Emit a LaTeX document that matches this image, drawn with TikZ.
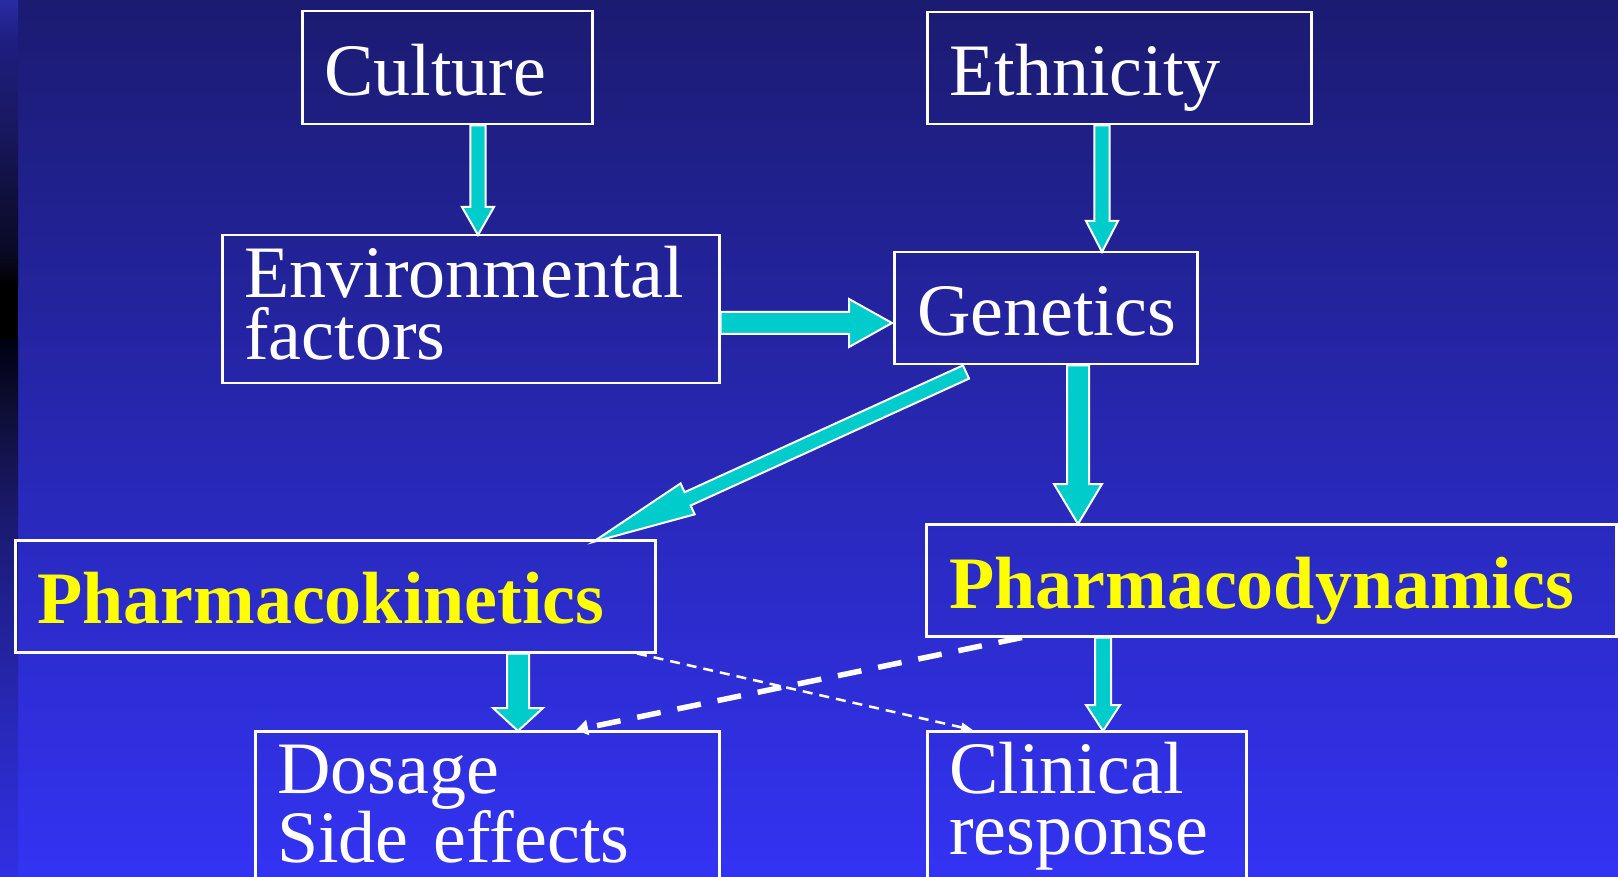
\documentclass[tikz,border=0pt]{standalone}
\usepackage{fontspec}
\setmainfont{Liberation Serif}
\usetikzlibrary{calc,arrows.meta}
\definecolor{arrowc}{RGB}{0,204,204}
\definecolor{hiyellow}{RGB}{255,255,0}
\definecolor{bgtop}{RGB}{27,27,113}
\definecolor{bgbot}{RGB}{51,51,243}
\definecolor{st0}{RGB}{42,42,165}
\definecolor{st1}{RGB}{30,30,128}
\definecolor{st2}{RGB}{24,24,96}
\definecolor{st3}{RGB}{16,16,64}
\definecolor{st4}{RGB}{10,10,38}
\definecolor{st5}{RGB}{0,0,0}
\definecolor{st6}{RGB}{0,0,20}
\definecolor{st7}{RGB}{12,12,48}
\definecolor{st8}{RGB}{20,20,80}
\definecolor{st9}{RGB}{26,26,112}
\definecolor{st10}{RGB}{32,32,144}
\definecolor{st11}{RGB}{40,40,184}
\definecolor{st12}{RGB}{48,48,228}
\newcommand{\blockarr}[5]{%
  \coordinate (baB) at ($(#2)!#5!(#1)$);
  \draw[blk] ($(#1)!#3!90:(#2)$) -- ($(baB)!#3!-90:(#1)$) -- ($(baB)!#4!-90:(#1)$) -- (#2)
    -- ($(baB)!#4!90:(#1)$) -- ($(baB)!#3!90:(#1)$) -- ($(#1)!#3!-90:(#2)$) -- cycle;}
\tikzset{
  blk/.style={fill=arrowc, draw=white, line width=2pt, line join=miter},
  box/.style={draw=white, line width=2.5pt, anchor=north west, inner ysep=0pt,
    align=left, text=white, font=\fontsize{74}{62}\selectfont},
  boldbox/.style={box, text=hiyellow, font=\fontsize{74}{62}\selectfont\bfseries},
  thickdash/.style={draw=white, line width=5.5pt, dash pattern=on 24pt off 17pt,
    -{Triangle[length=12pt,width=15pt]}},
  thindash/.style={draw=white, line width=2.5pt, dash pattern=on 10pt off 7pt,
    -{Triangle[length=12pt,width=9pt]}}
}
\begin{document}
\begin{tikzpicture}[x=1pt,y=-1pt]
\useasboundingbox (0,0) rectangle (1618,877);
\clip (0,0) rectangle (1618,877);
% background
\shade[top color=bgtop, bottom color=bgbot] (18,0) rectangle (1618,877);
\shade[top color=st0, bottom color=st1] (0,0) rectangle (18,40);
\shade[top color=st1, bottom color=st2] (0,40) rectangle (18,130);
\shade[top color=st2, bottom color=st3] (0,130) rectangle (18,190);
\shade[top color=st3, bottom color=st4] (0,190) rectangle (18,250);
\shade[top color=st4, bottom color=st5] (0,250) rectangle (18,286);
\fill[st5] (0,286) rectangle (18,340);
\shade[top color=st6, bottom color=st7] (0,340) rectangle (18,400);
\shade[top color=st7, bottom color=st8] (0,400) rectangle (18,460);
\shade[top color=st8, bottom color=st9] (0,460) rectangle (18,520);
\shade[top color=st9, bottom color=st10] (0,520) rectangle (18,600);
\shade[top color=st10, bottom color=st11] (0,600) rectangle (18,720);
\shade[top color=st11, bottom color=st12] (0,720) rectangle (18,877);

% boxes
\node[box, minimum width=290pt, inner xsep=22pt, text width=246pt, text height=84pt, text depth=29pt] (culture) at (301,10) {Culture};
\node[box, minimum width=384pt, inner xsep=22pt, text width=340pt, text height=83pt, text depth=29pt] (ethnicity) at (926,11) {Ethnicity};
\node[box, minimum width=497pt, inner xsep=22pt, text width=453pt, text height=62pt, text depth=86pt] (env) at (221,234) {Environmental\\factors};
\node[box, minimum width=303pt, inner xsep=23pt, text width=257pt, text height=83pt, text depth=29pt] (genetics) at (893,251) {Genetics};
\node[boldbox, minimum width=640pt, inner xsep=22pt, text width=596pt, text height=83pt, text depth=29pt] (pk) at (14,539) {Pharmacokinetics};
\node[boldbox, minimum width=690pt, inner xsep=23pt, text width=644pt, text height=84pt, text depth=28pt] (pd) at (925,523) {Pharmacodynamics};
\node[box, font=\fontsize{74}{69}\selectfont, minimum width=464pt, inner xsep=22pt, text width=420pt, text height=62pt, text depth=158pt] (dosage) at (254,730) {Dosage\\Side effects};
\node[box, font=\fontsize{74}{61}\selectfont, minimum width=319pt, inner xsep=22pt, text width=275pt, text height=62pt, text depth=158pt] (clinical) at (926,730) {Clinical\\response};

% arrow end points
\coordinate (cuS) at (culture.south -| 478,0);
\coordinate (enN) at ($(env.north -| 478,0)+(0,1)$);
\coordinate (etS) at (ethnicity.south -| 1102,0);
\coordinate (geN) at ($(genetics.north -| 1102,0)+(0,1)$);
\coordinate (enE) at (env.east |- 0,323);
\coordinate (geW) at ($(genetics.west |- 0,323)+(-1,0)$);
\coordinate (geSW) at (966,372);
\coordinate (pkN) at (593,542);
\coordinate (geS) at (genetics.south -| 1078,0);
\coordinate (pdN) at ($(pd.north -| 1078,0)+(0,1)$);
\coordinate (pkS) at (pk.south -| 518,0);
\coordinate (doN) at ($(dosage.north -| 518,0)+(0,1)$);
\coordinate (pdS) at (pd.south -| 1103,0);
\coordinate (clN) at ($(clinical.north -| 1103,0)+(0,1)$);
\coordinate (pdSW) at (pd.south -| 1022,0);
\coordinate (doNE) at (dosage.north -| 576,0);
\coordinate (pkSE) at (pk.south -| 637,0);
\coordinate (clNW) at (clinical.north -| 973,0);

% block arrows
\blockarr{cuS}{enN}{7.7pt}{16pt}{28pt}
\blockarr{etS}{geN}{7.7pt}{16pt}{31pt}
\blockarr{enE}{geW}{11pt}{24pt}{43pt}
\blockarr{geSW}{pkN}{7.3pt}{17pt}{104pt}
\blockarr{geS}{pdN}{11pt}{24pt}{40pt}
\blockarr{pkS}{doN}{11pt}{25pt}{23pt}
\blockarr{pdS}{clN}{8pt}{17pt}{26pt}

% dashed arrows
\draw[thickdash] (pdSW) -- (doNE);
\draw[thindash] (pkSE) -- (clNW);
\end{tikzpicture}
\end{document}
